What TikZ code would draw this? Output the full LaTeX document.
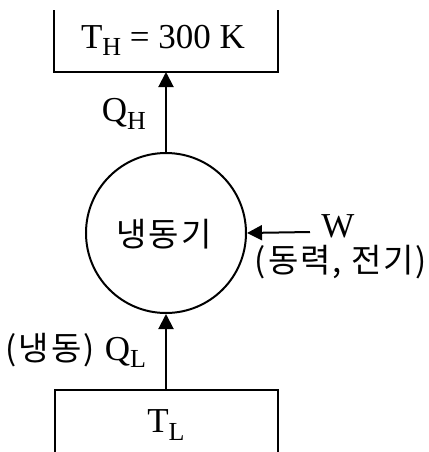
\documentclass[tikz,border=0pt]{standalone}
\usepackage{fontspec}
\setmainfont{Liberation Serif}
\newfontfamily\kofont[LetterSpace=6]{Noto Sans CJK KR}
\usetikzlibrary{arrows.meta}
\newcommand{\lowsub}[1]{\raisebox{-0.45ex}{\fontsize{13}{13}\selectfont #1}}

\begin{document}
\begin{tikzpicture}[
    x=0.5pt, y=-0.5pt,
    line width=1pt,
    heat/.style={-{Triangle[length=7.5pt,width=7.5pt]}},
    lbl/.style={font=\fontsize{17.5}{20}\selectfont, inner sep=0pt},
    kolbl/.style={font=\kofont\fontsize{16.5}{18}\selectfont, inner sep=0pt}
]
  \useasboundingbox (0,0) rectangle (429,452);

  % Draw the two reservoirs (open boxes)
  \draw (54,10) |- (278,72) -- (278,10);
  \draw (55,452) |- (278,390) -- (278,452);
  \node[lbl] (hot) at (163,40) {T\lowsub{H} = 300 K};
  \node[lbl] (cold) at (166,425) {T\lowsub{L}};

  % Refrigerator in the middle
  \node[circle, draw, minimum size=80pt, inner sep=0pt] (fridge) at (166,233) {};
  \node[kolbl] (name) at (164,234) {냉동기};

  % Heat and work flows
  \coordinate (hotin) at (166,72);
  \coordinate (coldout) at (166,390);
  \coordinate (win) at (310,232);
  \draw[heat] (fridge.north) -- (hotin);
  \draw[heat] (coldout) -- (fridge.south);
  \draw[heat] (win) -- (fridge.east);

  % Labels on the flows
  \node[lbl] (qh) at (124,114) {Q\lowsub{H}};
  \node[lbl] (w) at (338,226) {W};
  \node[kolbl] (power) at (341,262) {(동력, 전기)};
  \node[kolbl, anchor=east] (ql) at (147,350) {(냉동)\hspace{5pt}{\rmfamily\fontsize{17.5}{20}\selectfont Q\lowsub{L}}};
\end{tikzpicture}
\end{document}
